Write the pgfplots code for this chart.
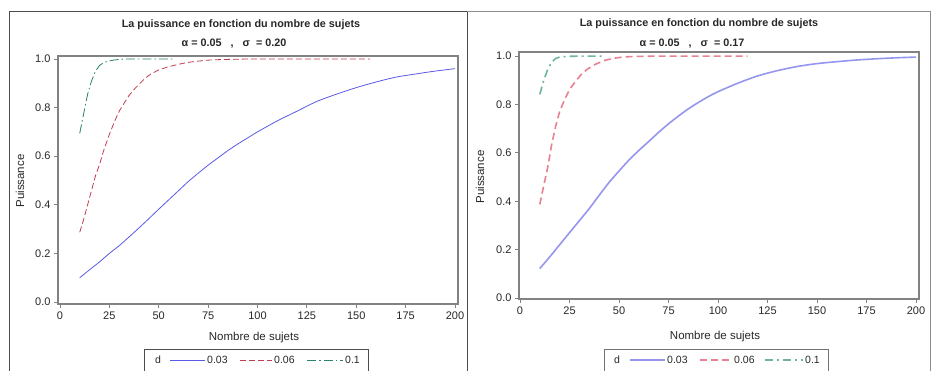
\documentclass[border=0pt]{standalone}
\usepackage{pgfplots}
\pgfplotsset{compat=1.18}
\usepackage{fontspec}
\setmainfont{Liberation Sans}
\definecolor{lblue}{RGB}{90,90,230}
\definecolor{lred}{RGB}{192,60,80}
\definecolor{lgreen}{RGB}{40,130,110}
\definecolor{rblue}{RGB}{150,150,240}
\definecolor{rred}{RGB}{230,130,145}
\definecolor{rgreen}{RGB}{110,180,160}
\definecolor{axgray}{RGB}{130,130,130}
\definecolor{txt}{RGB}{40,40,40}

\pgfplotsset{
  sasaxis/.style={
    scale only axis, width=400pt, anchor=south west,
    xmin=-1, xmax=201.5,
    xtick={0,25,...,200}, ytick={0,0.2,...,1.0},
    tick align=outside, xtick pos=bottom, ytick pos=left,
    major tick length=4pt,
    axis line style={draw=axgray, line width=1.4pt},
    every tick/.style={draw=axgray, line width=0.8pt},
    tick label style={font=\fontsize{11}{13}\selectfont, text=txt},
    /pgf/number format/assume math mode=true,
    yticklabel style={/pgf/number format/.cd, fixed, fixed zerofill, precision=1},
    xticklabel style={/pgf/number format/.cd, fixed, precision=0},
    clip=false,
  }
}

\begin{document}
\begin{tikzpicture}[x=1pt,y=1pt]
\useasboundingbox (0,0) rectangle (936,-370);
\fill[white] (0,0) rectangle (936,-370);

% frames
\draw[line width=1pt, draw=black!70] (9,-372)--(9,-11)--(467,-11)--(467,-372);
\draw[line width=1pt, draw=black!45] (467,-11)--(930,-11)--(930,-372);

% ---------- left panel ----------
\begin{axis}[sasaxis, height=248pt, at={(58pt,-304pt)}, ymin=-0.008, ymax=1.012]
\addplot[lblue, line width=0.8pt, smooth] coordinates {
(10,0.100) (15,0.133) (20,0.165) (25,0.200) (30,0.232) (35,0.268) (40,0.305)
(45,0.343) (50,0.382) (55,0.420) (60,0.458) (65,0.496) (70,0.530) (75,0.563)
(80,0.593) (85,0.623) (90,0.650) (95,0.675) (100,0.700) (110,0.745) (120,0.785)
(130,0.825) (140,0.855) (150,0.882) (160,0.905) (170,0.925) (180,0.938)
(190,0.950) (200,0.960)};
\addplot[lred, line width=0.8pt, dash pattern=on 6pt off 3pt] coordinates {
(10,0.287) (12,0.340) (14,0.400) (16,0.460) (18,0.520) (20,0.565) (22,0.620)
(25,0.690) (28,0.750) (30,0.785) (33,0.825) (35,0.850) (38,0.879) (40,0.895)
(43,0.920) (46,0.938) (50,0.955) (55,0.968) (60,0.978) (65,0.986) (70,0.991)
(75,0.995) (80,0.997) (90,0.999) (100,1.000) (157,1.000)};
\addplot[lgreen, line width=0.8pt, dash pattern=on 9pt off 3pt on 1.5pt off 3pt] coordinates {
(10,0.694) (12,0.775) (14,0.855) (16,0.910) (18,0.950) (20,0.973) (22,0.984)
(24,0.990) (27,0.995) (31,0.999) (40,1.000) (58,1.000)};
\end{axis}

\node[font=\bfseries\fontsize{10.8}{12}\selectfont, text=txt] at (241,-25) {La puissance en fonction du nombre de sujets};
\node[font=\bfseries\fontsize{10.8}{12}\selectfont, text=txt] at (234,-44) {α = 0.05 \ \ , \ \ σ \ = 0.20};
\node[font=\fontsize{11.5}{13}\selectfont, text=txt, rotate=90] at (20,-181) {Puissance};
\node[font=\fontsize{11.5}{13}\selectfont, text=txt] at (254,-338) {Nombre de sujets};
% legend
\draw[line width=0.9pt, draw=black!70] (144,-375) rectangle (368,-349);
\node[font=\fontsize{10.5}{12}\selectfont, text=txt] at (158,-360) {d};
\draw[lblue, line width=0.8pt] (170,-360)--(205,-360);
\node[font=\fontsize{10.5}{12}\selectfont, text=txt, anchor=west, inner sep=1pt] at (206,-360) {0.03};
\draw[lred, line width=0.8pt, dash pattern=on 6pt off 3pt] (240,-360)--(272,-360);
\node[font=\fontsize{10.5}{12}\selectfont, text=txt, anchor=west, inner sep=1pt] at (273,-360) {0.06};
\draw[lgreen, line width=0.8pt, dash pattern=on 9pt off 3pt on 1.5pt off 3pt] (307,-360)--(343,-360);
\node[font=\fontsize{10.5}{12}\selectfont, text=txt, anchor=west, inner sep=1pt] at (344,-360) {0.1};

% ---------- right panel ----------
\begin{axis}[sasaxis, height=247pt, at={(519pt,-299pt)}, xmin=-0.5, ymin=-0.004, ymax=1.017]
\addplot[rblue, line width=1.6pt, smooth] coordinates {
(10,0.122) (15,0.170) (20,0.220) (25,0.270) (30,0.320) (35,0.370) (40,0.425)
(45,0.478) (50,0.525) (55,0.570) (60,0.610) (65,0.647) (70,0.685) (75,0.720)
(80,0.752) (85,0.782) (90,0.808) (95,0.832) (100,0.853) (110,0.888) (120,0.918)
(130,0.940) (140,0.957) (150,0.969) (160,0.977) (170,0.984) (180,0.989)
(190,0.993) (200,0.996)};
\addplot[rred, line width=1.6pt, dash pattern=on 7pt off 4pt] coordinates {
(10,0.387) (12,0.465) (14,0.540) (16,0.635) (18,0.710) (20,0.770) (22,0.810)
(24,0.845) (26,0.873) (28,0.895) (31,0.925) (34,0.946) (38,0.966) (43,0.983)
(48,0.992) (53,0.997) (60,0.999) (70,1.000) (115,1.000)};
\addplot[rgreen, line width=1.6pt, dash pattern=on 8pt off 4pt on 2pt off 4pt] coordinates {
(10,0.842) (12,0.900) (14,0.945) (16,0.975) (18,0.990) (20,0.996) (24,0.999)
(30,1.000) (42,1.000)};
\end{axis}

\node[font=\bfseries\fontsize{10.8}{12}\selectfont, text=txt] at (699,-24) {La puissance en fonction du nombre de sujets};
\node[font=\bfseries\fontsize{10.8}{12}\selectfont, text=txt] at (692,-44) {α = 0.05 \ \ , \ \ σ \ = 0.17};
\node[font=\fontsize{11.5}{13}\selectfont, text=txt, rotate=90] at (480,-177) {Puissance};
\node[font=\fontsize{11.5}{13}\selectfont, text=txt] at (715,-337) {Nombre de sujets};
% legend
\draw[line width=0.9pt, draw=black!55] (604,-375) rectangle (828,-349);
\node[font=\fontsize{10.5}{12}\selectfont, text=txt] at (617,-360) {d};
\draw[rblue, line width=1.6pt] (630,-360)--(665,-360);
\node[font=\fontsize{10.5}{12}\selectfont, text=txt, anchor=west, inner sep=1pt] at (666,-360) {0.03};
\draw[rred, line width=1.6pt, dash pattern=on 7pt off 4pt] (700,-360)--(730,-360);
\node[font=\fontsize{10.5}{12}\selectfont, text=txt, anchor=west, inner sep=1pt] at (733,-360) {0.06};
\draw[rgreen, line width=1.6pt, dash pattern=on 8pt off 4pt on 2pt off 4pt] (765,-360)--(803,-360);
\node[font=\fontsize{10.5}{12}\selectfont, text=txt, anchor=west, inner sep=1pt] at (804,-360) {0.1};
\end{tikzpicture}
\end{document}
